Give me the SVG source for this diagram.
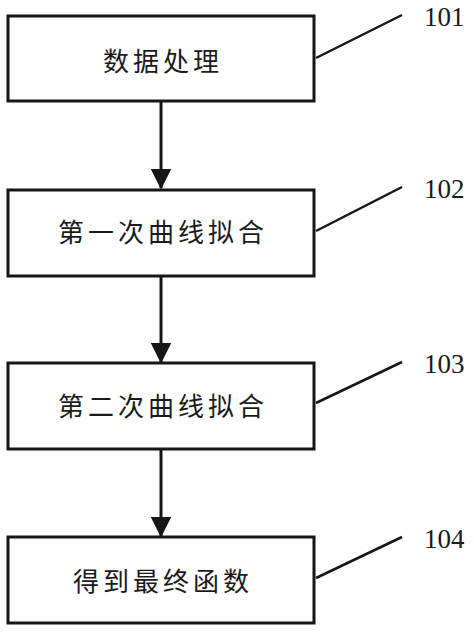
<svg xmlns="http://www.w3.org/2000/svg" width="474" height="632" viewBox="0 0 474 632">
<defs>
<style>
.box{fill:#fff;stroke:#161616;stroke-width:3}
.lbl{font-family:"Noto Sans CJK SC","Noto Sans",sans-serif;font-size:26px;fill:#1a1a1a;text-anchor:middle;letter-spacing:4px}
.num{font-family:"Liberation Serif",serif;font-size:27px;fill:#1a1a1a}
.lead{stroke:#161616;stroke-width:2.5;fill:none}
.conn{stroke:#161616;stroke-width:3;fill:none}
</style>
<marker id="ah" markerWidth="7" markerHeight="7" refX="6.5" refY="3.5" orient="auto" markerUnits="strokeWidth" viewBox="0 0 7 7">
<path d="M0,0 L7,3.5 L0,7 Z" fill="#161616"/>
</marker>
</defs>
<rect width="474" height="632" fill="#fff"/>
<g id="connectors">
<line class="conn" x1="161" y1="101" x2="161" y2="188" marker-end="url(#ah)"/>
<line class="conn" x1="161" y1="276" x2="161" y2="362" marker-end="url(#ah)"/>
<line class="conn" x1="161" y1="449" x2="161" y2="536" marker-end="url(#ah)"/>
</g>
<g id="n101">
<rect class="box" x="8" y="16" width="306" height="85"/>
<text class="lbl" x="163" y="71">数据处理</text>
<line class="lead" x1="316" y1="58" x2="402" y2="15"/>
<text class="num" x="424" y="26">101</text>
</g>
<g id="n102">
<rect class="box" x="8" y="190" width="306" height="86"/>
<text class="lbl" x="163" y="242">第一次曲线拟合</text>
<line class="lead" x1="316" y1="231" x2="402" y2="187"/>
<text class="num" x="424" y="198">102</text>
</g>
<g id="n103">
<rect class="box" x="8" y="363" width="306" height="86"/>
<text class="lbl" x="163" y="416">第二次曲线拟合</text>
<line class="lead" x1="316" y1="403" x2="402" y2="362"/>
<text class="num" x="424" y="373">103</text>
</g>
<g id="n104">
<rect class="box" x="8" y="537" width="306" height="86"/>
<text class="lbl" x="163" y="591">得到最终函数</text>
<line class="lead" x1="316" y1="578" x2="402" y2="537"/>
<text class="num" x="424" y="548">104</text>
</g>
</svg>
